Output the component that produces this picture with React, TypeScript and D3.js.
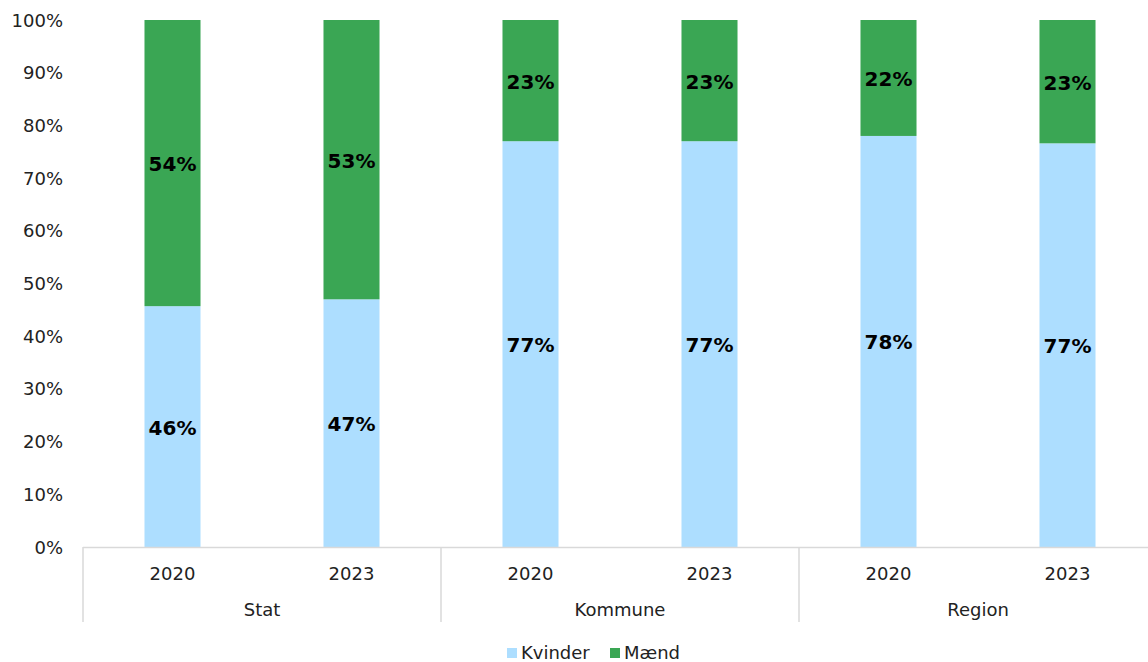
import React from "react";
import * as d3 from "d3";

const groups = ["Stat", "Kommune", "Region"];
const years = ["2020", "2023"];
const kvinder = [45.7, 47.0, 77.0, 77.0, 78.0, 76.6];
const maend = [54.3, 53.0, 23.0, 23.0, 22.0, 23.4];
const kvinderLabels = ["46%", "47%", "77%", "77%", "78%", "77%"];
const maendLabels = ["54%", "53%", "23%", "23%", "22%", "23%"];
const yTicks = [0, 10, 20, 30, 40, 50, 60, 70, 80, 90, 100];
const seriesNames = ["Kvinder", "Mænd"];
const colors = ["#ADDEFF", "#3AA654"];

const W = 1148;
const H = 662;
const FONT = "DejaVu Sans, Verdana, sans-serif";

export default function App() {
  const cats = groups.flatMap((g) => years.map((y) => `${g}-${y}`));
  const x = d3
    .scaleBand<string>()
    .domain(cats)
    .range([83, 1157])
    .paddingInner(0.687)
    .paddingOuter(0.3435);
  const y = d3.scaleLinear().domain([0, 100]).range([547, 20]);
  const step = x.step();
  const groupW = step * years.length;
  const x0 = 83;

  return (
    <div style={{ position: "absolute", left: 0, top: 0 }}>
      <svg width={W} height={H} style={{ display: "block" }} fontFamily={FONT}>
        <rect width={W} height={H} fill="#fff" />
        {yTicks.map((t) => (
          <text
            key={t}
            x={63}
            y={y(t)}
            textAnchor="end"
            dominantBaseline="central"
            fontSize={18}
            fill="#222"
          >
            {t}%
          </text>
        ))}
        {cats.map((c, i) => {
          const bx = x(c)!;
          const bw = x.bandwidth();
          const k = kvinder[i];
          const m = maend[i];
          return (
            <g key={c}>
              <rect x={bx} y={y(k)} width={bw} height={y(0) - y(k)} fill={colors[0]} />
              <rect x={bx} y={y(k + m)} width={bw} height={y(k) - y(k + m)} fill={colors[1]} />
              <text
                x={bx + bw / 2}
                y={(y(0) + y(k)) / 2 + 1}
                textAnchor="middle"
                dominantBaseline="central"
                fontSize={20}
                fontWeight="bold"
                fill="#000"
              >
                {kvinderLabels[i]}
              </text>
              <text
                x={bx + bw / 2}
                y={(y(k) + y(k + m)) / 2 + 1}
                textAnchor="middle"
                dominantBaseline="central"
                fontSize={20}
                fontWeight="bold"
                fill="#000"
              >
                {maendLabels[i]}
              </text>
              <text
                x={bx + bw / 2}
                y={573}
                textAnchor="middle"
                dominantBaseline="central"
                fontSize={18}
                fill="#222"
              >
                {years[i % years.length]}
              </text>
            </g>
          );
        })}
        <line x1={x0} x2={W} y1={547.5} y2={547.5} stroke="#d9d9d9" strokeWidth={1.5} />
        {d3.range(groups.length + 1).map((gi) => (
          <line
            key={gi}
            x1={x0 + gi * groupW}
            x2={x0 + gi * groupW}
            y1={547}
            y2={622}
            stroke="#d9d9d9"
            strokeWidth={1.5}
          />
        ))}
        {groups.map((g, gi) => (
          <text
            key={g}
            x={x0 + gi * groupW + groupW / 2}
            y={609}
            textAnchor="middle"
            dominantBaseline="central"
            fontSize={18}
            fill="#222"
          >
            {g}
          </text>
        ))}
        <g>
          <rect x={507} y={648} width={10} height={10} fill={colors[0]} />
          <text x={521} y={652} dominantBaseline="central" fontSize={18} fill="#222">
            {seriesNames[0]}
          </text>
          <rect x={610} y={648} width={10} height={10} fill={colors[1]} />
          <text x={624} y={652} dominantBaseline="central" fontSize={18} fill="#222">
            {seriesNames[1]}
          </text>
        </g>
      </svg>
    </div>
  );
}
